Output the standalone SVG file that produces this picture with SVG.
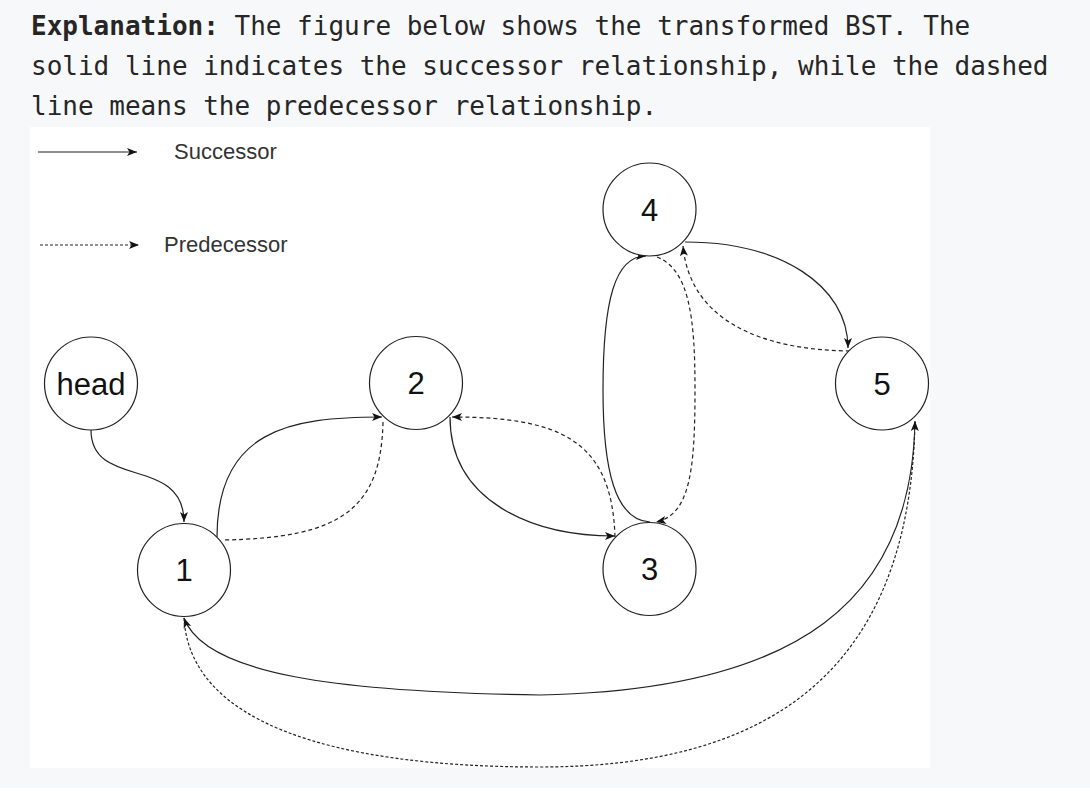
<svg xmlns="http://www.w3.org/2000/svg" width="1090" height="798" viewBox="0 0 1090 798">
<defs>
<style>
.expl{font-family:"DejaVu Sans Mono","Liberation Mono",monospace;font-size:26px;fill:#262626}
.b{font-weight:bold}
.leg{font-family:"Liberation Sans",Arial,sans-serif;font-size:22px;fill:#333}
.nt{font-family:"Liberation Sans",Arial,sans-serif;font-size:31px;fill:#111;text-anchor:middle}
.node circle{fill:#fff;stroke:#222;stroke-width:1.2}
.s{fill:none;stroke:#222;stroke-width:1.2}
.d{fill:none;stroke:#222;stroke-width:1.2;stroke-dasharray:4 3}
.d2{fill:none;stroke:#222;stroke-width:1.2;stroke-dasharray:3 2}
</style>
<marker id="arr" viewBox="0 0 10 10" refX="10" refY="5" markerWidth="10" markerHeight="10" markerUnits="userSpaceOnUse" orient="auto">
<path d="M0,1 L10,5 L0,9 L2.5,5 z" fill="#111"/>
</marker>
</defs>
<rect x="0" y="0" width="1090" height="798" fill="#fff"/>
<rect x="0" y="0" width="1090" height="788" fill="#f7f8fa"/>
<text class="expl" x="31" y="35"><tspan class="b">Explanation:</tspan> The figure below shows the transformed BST. The</text>
<text class="expl" x="31" y="75">solid line indicates the successor relationship, while the dashed</text>
<text class="expl" x="31" y="115">line means the predecessor relationship.</text>
<rect x="30" y="127" width="900" height="641" fill="#fff"/>
<g id="legend">
<path class="s" d="M38,152 L137,152" marker-end="url(#arr)"/>
<text class="leg" x="174" y="159">Successor</text>
<path class="d2" d="M40,245 L139,245" marker-end="url(#arr)"/>
<text class="leg" x="164" y="252">Predecessor</text>
</g>
<g id="connectors">
<path class="s" d="M91,430 C91,490 184,455 184,522" marker-end="url(#arr)"/>
<path class="s" d="M217,537 C217,430 290,417 382,417" marker-end="url(#arr)"/>
<path class="d" d="M383,422 C381,510 340,538 223,540"/>
<path class="s" d="M450,417 C450,500 530,536 615,536" marker-end="url(#arr)"/>
<path class="d" d="M615,537 C612,440 560,417 452,417" marker-end="url(#arr)"/>
<path class="s" d="M650,522 C615,520 603,470 603,390 C603,300 615,256 646,256" marker-end="url(#arr)"/>
<path class="d" d="M657,257 C690,270 695,320 695,390 C695,470 690,515 656,522" marker-end="url(#arr)"/>
<path class="s" d="M685,242 C780,242 848,285 848,348" marker-end="url(#arr)"/>
<path class="d" d="M850,351 C760,350 690,320 683,246" marker-end="url(#arr)"/>
<path class="s" d="M915,421 C912,600 800,690 540,695 C340,692 205,675 184,618" marker-end="url(#arr)"/>
<path class="d2" d="M184,618 C190,722 330,767 540,767 C760,767 910,680 915,421" marker-end="url(#arr)"/>
</g>
<g id="node-head" class="node"><circle cx="91" cy="383.5" r="46.5"/><text class="nt" x="91" y="395">head</text></g>
<g id="node-1" class="node"><circle cx="184" cy="570" r="46.5"/><text class="nt" x="184" y="581">1</text></g>
<g id="node-2" class="node"><circle cx="416" cy="383" r="46.5"/><text class="nt" x="416" y="394">2</text></g>
<g id="node-3" class="node"><circle cx="649.5" cy="569" r="46.5"/><text class="nt" x="649.5" y="580">3</text></g>
<g id="node-4" class="node"><circle cx="649.5" cy="209.5" r="46.5"/><text class="nt" x="649.5" y="220.5">4</text></g>
<g id="node-5" class="node"><circle cx="882" cy="383.5" r="46.5"/><text class="nt" x="882" y="394.5">5</text></g>
</svg>
